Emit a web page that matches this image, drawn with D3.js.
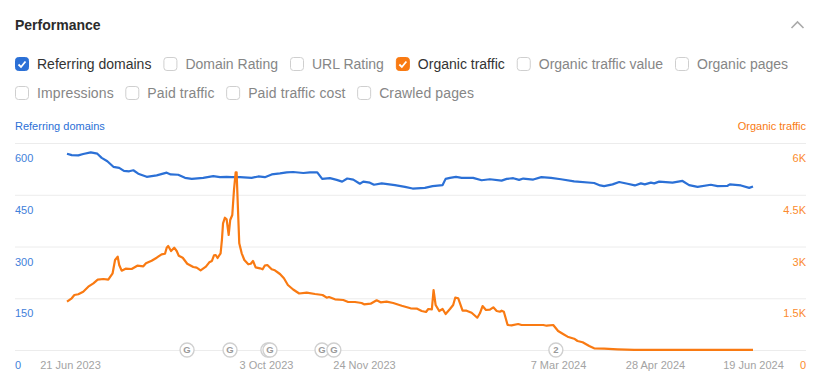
<!DOCTYPE html>
<html>
<head>
<meta charset="utf-8">
<script src="https://cdn.jsdelivr.net/npm/d3@7"></script>
<style>
  html, body { margin: 0; padding: 0; background: #fff; }
  svg { display: block; font-family: "Liberation Sans", Arial, sans-serif; }
</style>
</head>
<body>
<svg id="chart"></svg>
<script>
const titleText = 'Performance';
const legendRow1 = ['Referring domains', 'Domain Rating', 'URL Rating', 'Organic traffic', 'Organic traffic value', 'Organic pages'];
const legendRow2 = ['Impressions', 'Paid traffic', 'Paid traffic cost', 'Crawled pages'];
const checkedColors = { 'Referring domains': '#2b70d6', 'Organic traffic': '#f97a12' };

const startDate = '21 Jun 2023';
const xTickLabels = ['21 Jun 2023', '3 Oct 2023', '24 Nov 2023', '7 Mar 2024', '28 Apr 2024', '19 Jun 2024'];
const leftTicks = [0, 150, 300, 450, 600];
const rightTicks = [0, 1500, 3000, 4500, 6000];

// days since the first date, and the value
const domainDays = [0, 2.5, 6, 8.6, 12.6, 16.1, 18.4, 21.4, 24.6, 27.7, 30.2, 33, 35.2, 37.8, 42.3, 47.6, 52.9, 55, 59, 62.6, 66.2, 72.3, 77.6, 81.2, 84.7, 87.4, 91.8, 98, 101.5, 105, 108.6, 113, 116.6, 120, 125.4, 128.9, 132.8, 135.4, 139.5, 143.1, 146, 148.7, 151.9, 155.4, 157.2, 160.7, 162.9, 167, 174, 179.3, 183.4, 189.9, 194, 199.3, 200.9, 203.2, 206.4, 209.4, 215.5, 220, 224.4, 230.6, 233.3, 236.8, 239.9, 242.1, 247.4, 251.7, 256.8, 262.1, 269.1, 279.7, 282.9, 285, 289.5, 293, 297.4, 301.3, 304.5, 306.6, 309.8, 311.6, 314.2, 321.3, 326.6, 330.1, 334.6, 341.6, 345.2, 350.5, 351.7, 357.6, 362, 364];
const domainValues = [569, 565, 564, 568, 573, 569, 557, 547, 531, 528, 519, 518, 521, 511, 502, 506, 514, 509, 508, 499, 496, 499, 504, 501, 502, 501, 501, 499, 503, 501, 509, 512, 515, 516, 513, 515, 515, 496, 498, 493, 488, 497, 494, 482, 488, 485, 479, 483, 478, 473, 468, 470, 475, 478, 496, 499, 502, 499, 499, 492, 495, 491, 496, 498, 493, 497, 494, 501, 499, 495, 489, 484, 477, 475, 480, 487, 482, 477, 483, 480, 485, 483, 488, 485, 490, 478, 473, 479, 475, 476, 480, 477, 470, 474];

const trafficDays = [0, 2.5, 3.9, 6, 8.6, 11.3, 14, 16.3, 19.3, 21.9, 24.2, 25.5, 26.9, 27.7, 29, 31.1, 34.3, 37.3, 40.5, 41.9, 44.9, 47.6, 50.2, 52, 52.9, 53.7, 55.2, 56.9, 58.2, 59.3, 61.4, 63.8, 67, 68.8, 70.9, 73.7, 75.5, 76.9, 78, 78.9, 79.9, 81.5, 82.2, 82.8, 83.8, 84.7, 85.8, 86.6, 87.7, 88.6, 89.5, 90, 90.7, 91.4, 92.7, 94.1, 96.2, 97.5, 98.7, 100.1, 102.4, 103.8, 104.9, 106.3, 108.6, 110.3, 113, 115.1, 117.2, 120, 123.2, 127.2, 131.6, 135.6, 137.8, 139, 142.2, 146.6, 149.2, 152.8, 156.3, 157.6, 161.1, 164.3, 166.4, 169.6, 173.1, 177.6, 182.3, 185.8, 188.2, 190.5, 191.7, 193.6, 194.5, 195.6, 197.5, 199.3, 200.9, 203.2, 204.9, 206, 207.6, 209.9, 212, 214.7, 217.7, 219.1, 220.5, 222.3, 224.4, 226.2, 228, 229.7, 230.6, 231.8, 233.8, 235.9, 239.4, 241.2, 252.7, 254.5, 258, 260.6, 263, 265.6, 269.1, 270.9, 273.6, 277.1, 279.7, 285, 292.1, 301, 364];
const trafficValues = [1400, 1499, 1594, 1615, 1690, 1835, 1933, 2038, 2058, 2038, 2223, 2609, 2704, 2464, 2299, 2357, 2348, 2444, 2426, 2513, 2588, 2675, 2774, 2791, 2965, 3014, 2870, 2965, 2870, 2733, 2675, 2501, 2406, 2386, 2310, 2415, 2542, 2580, 2745, 2754, 2667, 2803, 3188, 3672, 3835, 3788, 3333, 3768, 3913, 4638, 5151, 5151, 4107, 3093, 2803, 2609, 2484, 2501, 2580, 2397, 2368, 2339, 2444, 2464, 2339, 2310, 2203, 2078, 1884, 1754, 1638, 1661, 1623, 1594, 1516, 1536, 1470, 1449, 1391, 1391, 1362, 1325, 1342, 1441, 1383, 1400, 1362, 1284, 1209, 1197, 1130, 1101, 1188, 1180, 1739, 1304, 1130, 1188, 1043, 1188, 1304, 1516, 1499, 1139, 1139, 1081, 936, 1064, 1275, 1159, 1168, 1238, 1130, 1110, 1139, 1110, 725, 716, 754, 725, 725, 704, 725, 551, 472, 386, 328, 261, 223, 116, 49, 38, 20, 5, 5];

// the third marker sits under the fourth, only its rim shows
const markerDays = [63.7, 86.5, 106.6, 107.7, 135.3, 141.6, 259.4];
const markerLabels = ['G', 'G', '', 'G', 'G', 'G', '2'];

const width = 821;
const height = 385;
const chartLeft = 15;
const chartRight = 806;

const svg = d3.select('svg#chart')
  .attr('width', width)
  .attr('height', height);

const parseDate = d3.utcParse('%d %b %Y');
const formatDate = d3.utcFormat('%-d %b %Y');
const start = parseDate(startDate);
const dayToDate = (d) => new Date(+start + d * 864e5);

const x = d3.scaleUtc()
  .domain([start, parseDate('19 Jun 2024')])
  .range([67, 753]);
const yLeft = d3.scaleLinear().domain([0, 600]).range([350, 143]);
const yRight = d3.scaleLinear().domain([0, 6000]).range([350, 143]);

// header
svg.append('text')
  .attr('x', 15)
  .attr('y', 30)
  .attr('font-size', 14)
  .attr('font-weight', 700)
  .attr('fill', '#2b2b2b')
  .text(titleText);

svg.append('path')
  .attr('d', 'M791.5 28 L797.5 22 L803.5 28')
  .attr('fill', 'none')
  .attr('stroke', '#aaa')
  .attr('stroke-width', 1.6);

// checkbox rows, laid out one after the other
const drawRow = (labels, rowY, spacing, gap) => {
  let cursor = 15;
  labels.forEach((label) => {
    const color = checkedColors[label];
    const item = svg.append('g').attr('transform', `translate(${cursor},${rowY})`);
    item.append('rect')
      .attr('x', 0.5)
      .attr('y', -6.5)
      .attr('width', 13)
      .attr('height', 13)
      .attr('rx', 3)
      .attr('fill', color || '#fff')
      .attr('stroke', color || '#cfcfcf');
    if (color) {
      item.append('path')
        .attr('d', 'M3.5 0.5 L6 3 L10.5 -2.5')
        .attr('fill', 'none')
        .attr('stroke', '#fff')
        .attr('stroke-width', 1.8);
    }
    const text = item.append('text')
      .attr('x', 22)
      .attr('y', 5)
      .attr('font-size', 14)
      .attr('letter-spacing', spacing)
      .attr('fill', color ? '#333' : '#868686')
      .text(label);
    cursor += 22 + text.node().getComputedTextLength() + gap;
  });
};
drawRow(legendRow1, 64, 0, 12);
drawRow(legendRow2, 93, 0.12, 11.5);

// axis titles
svg.append('text')
  .attr('x', chartLeft)
  .attr('y', 130)
  .attr('font-size', 11)
  .attr('fill', '#2b70d6')
  .text('Referring domains');
svg.append('text')
  .attr('x', chartRight)
  .attr('y', 130)
  .attr('font-size', 11)
  .attr('text-anchor', 'end')
  .attr('fill', '#f97a12')
  .text('Organic traffic');

// left axis carries the gridlines too
svg.append('g')
  .attr('transform', `translate(${chartLeft},0)`)
  .call(d3.axisRight(yLeft).tickValues(leftTicks).tickSize(chartRight - chartLeft))
  .call((g) => g.select('.domain').remove())
  .call((g) => g.selectAll('.tick line').attr('stroke', '#ececec'))
  .call((g) => g.selectAll('.tick text')
    .attr('x', 0)
    .attr('dy', 18.5)
    .attr('text-anchor', 'start')
    .attr('font-family', 'inherit')
    .attr('font-size', 11)
    .attr('fill', '#3f80da'));

svg.append('g')
  .attr('transform', `translate(${chartRight},0)`)
  .call(d3.axisLeft(yRight)
    .tickValues(rightTicks)
    .tickSize(0)
    .tickFormat((d) => (d === 0 ? '0' : `${d / 1000}K`)))
  .call((g) => g.select('.domain').remove())
  .call((g) => g.selectAll('.tick text')
    .attr('x', 0)
    .attr('dy', 18.5)
    .attr('font-family', 'inherit')
    .attr('font-size', 11)
    .attr('fill', '#fb8a2e'));

// the first labels sit a little right of their dates in the original
const xLabelShift = [3, 3, 3, 1, 0, 0];
svg.append('g')
  .attr('transform', 'translate(0,350)')
  .call(d3.axisBottom(x)
    .tickValues(xTickLabels.map(parseDate))
    .tickSize(0)
    .tickFormat(formatDate))
  .call((g) => g.select('.domain').remove())
  .call((g) => g.selectAll('.tick text')
    .attr('x', (d, i) => xLabelShift[i])
    .attr('y', 15)
    .attr('dy', 4)
    .attr('font-family', 'inherit')
    .attr('font-size', 11)
    .attr('fill', '#a3a3a3'));

// annotation markers on the baseline
const markers = svg.append('g')
  .selectAll('g')
  .data(markerDays)
  .join('g')
  .attr('transform', (d) => `translate(${x(dayToDate(d))},350)`);
markers.append('circle')
  .attr('r', 7)
  .attr('fill', '#fff')
  .attr('stroke', '#d0d0d0')
  .attr('stroke-width', 1.4);
markers.append('text')
  .attr('text-anchor', 'middle')
  .attr('y', 3.3)
  .attr('font-size', 9.5)
  .attr('font-weight', 700)
  .attr('fill', '#9a9a9a')
  .text((d, i) => markerLabels[i]);

// series
const drawLine = (days, values, y, color) => {
  const line = d3.line()
    .x((d, i) => x(dayToDate(days[i])))
    .y((d) => y(d));
  svg.append('path')
    .datum(values)
    .attr('fill', 'none')
    .attr('stroke', color)
    .attr('stroke-width', 2.2)
    .attr('stroke-linejoin', 'round')
    .attr('d', line);
};
drawLine(domainDays, domainValues, yLeft, '#2b70d6');
drawLine(trafficDays, trafficValues, yRight, '#f97a12');
</script>
</body>
</html>
